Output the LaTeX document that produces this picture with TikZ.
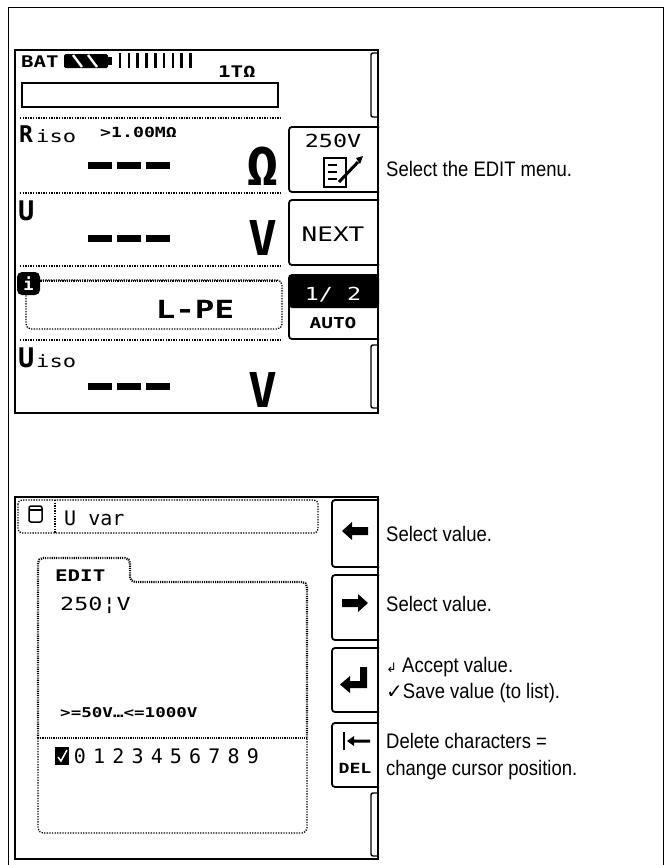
\documentclass[tikz,border=0pt]{standalone}
\usepackage{fontspec}
\setmainfont{Liberation Sans}[FakeStretch=0.88]
\newfontfamily\lcdfont{DejaVu Sans Mono}
\newfontfamily\lcdwide{DejaVu Sans Mono}[FakeStretch=1.3]
\newfontfamily\symfont{DejaVu Sans}
\tikzset{
  lcd/.style={font=\lcdfont\fontsize{#1}{#1}\selectfont, inner sep=0pt},
  lcdb/.style={font=\lcdfont\bfseries\fontsize{#1}{#1}\selectfont, inner sep=0pt},
  lcdw/.style={font=\lcdwide\fontsize{#1}{#1}\selectfont, inner sep=0pt},
  lcdwb/.style={font=\lcdwide\bfseries\fontsize{#1}{#1}\selectfont, inner sep=0pt},
  hint/.style={font=\fontsize{21}{21}\selectfont, inner sep=0pt, anchor=base west},
  screen/.style={line width=2pt},
  softkey/.style={line width=1.8pt, rounded corners=3pt},
  emptykey/.style={line width=1.4pt, rounded corners=2pt},
  dotsep/.style={line width=1.3pt, dash pattern=on 1.3pt off 1.3pt},
  checker/.style={line width=2.2pt, dash pattern=on 1.1pt off 1.1pt},
}
\begin{document}
\begin{tikzpicture}[x=1pt,y=-1pt]
\useasboundingbox (0,0) rectangle (672,865);
\draw[line width=0.9pt] (8,865) -- (8,7) -- (663,7) -- (663,865);

% ---- screen 1: measuring view
\draw[screen] (15,50) rectangle (378,413);
\node[lcdwb=16, anchor=base west] (bat) at (21,67) {BAT};
\fill[rounded corners=1.5pt] (64,54) rectangle (108,68);
\fill (107,57) rectangle (112,65);
\draw[white, line width=2.4pt] (73,55) -- (82,67) (88,55) -- (97,67);
\foreach \i in {0,...,8}
  \draw[line width=2.6pt] (120+8.8*\i,53) -- (120+8.8*\i,68);
\node[lcdwb=16, anchor=base west] (range) at (218,77) {1TΩ};
\draw[line width=1.3pt] (22,83) rectangle (278,107);
\foreach \y in {118,193,266,340}
  \draw[dotsep] (20,\y) -- (281,\y);
% Riso
\node[lcdb=23, anchor=base west] (riso) at (19,142) {R};
\node[lcdw=17, anchor=base west] (risoi) at (36,142) {iso};
\node[lcdwb=14, anchor=base west] (limit) at (100,137) {>1.00MΩ};
\node[lcdb=54, anchor=base] (ohm) at (263,185) {Ω};
% U
\node[lcdb=27, anchor=base west] (u) at (18,220) {U};
\node[lcdb=48, anchor=base] (volt) at (263,255) {V};
% L-PE
\draw[dotsep, rounded corners=5pt] (26,280) rectangle (282,329);
\draw[checker] (36,281) -- (278,281);
\fill[rounded corners=5pt] (17,272) rectangle (40,295);
\node[lcdb=17, white] (info) at (28.5,283.5) {i};
\node[lcdwb=25, anchor=base] (lpe) at (195,318) {L-PE};
% Uiso
\node[lcdb=27, anchor=base west] (uiso) at (18,367) {U};
\node[lcdw=17, anchor=base west] (uisoi) at (36,367) {iso};
\node[lcdb=48, anchor=base] (voltiso) at (263,407) {V};
% dashes
\foreach \y in {165,238,386}
  \foreach \x in {88,117,146}
    \fill (\x,\y-3.5) rectangle (\x+24,\y+3.5);
% soft keys
\draw[emptykey] (378,53) -| (371,117) -- (378,117);
\draw[softkey] (379,127) -| (289,192) -- (379,192);
\node[lcdw=18, anchor=base] (k250) at (333,147) {250V};
\draw[line width=1.6pt] (324,158) rectangle (346,187);
\foreach \y in {165,172,179}
  \draw[line width=1.6pt] (328,\y) -- (337,\y);
\draw[line width=3pt] (339,182) -- (358,162);
\fill (356,158) -- (363,156) -- (360,164) -- cycle;
\draw[softkey] (379,200) -| (289,265) -- (379,265);
\node[lcdw=20, anchor=base] (knext) at (333,241) {NEXT};
\fill[rounded corners=3pt] (289,275) rectangle (379,308);
\draw[softkey] (379,275) -| (289,339) -- (379,339);
\node[lcdw=18, white, anchor=base] (kpage) at (333,300) {1/ 2};
\node[lcdwb=15, anchor=base] (kauto) at (333,328) {AUTO};
\draw[emptykey] (378,345) -| (371,408) -- (378,408);
\node[hint] (editmenu) at (386,176) {Select the EDIT menu.};

% ---- screen 2: edit view
\draw[screen] (15,497) rectangle (378,859);
\draw[dotsep, rounded corners=4pt] (18,500) rectangle (318,533);
\draw[dotsep] (55,500) -- (55,533);
\draw[line width=1.5pt, rounded corners=2pt] (29,506) rectangle (42,522);
\draw[line width=1.5pt] (29,510) -- (42,510);
\node[lcd=20, anchor=base west] (uvar) at (64,525) {U var};
% edit box
\draw[checker, rounded corners=5pt] (38,738) -- (38,558) -- (130,558) -- (130,582) -- (307,582) -- (307,738);
\draw[checker] (38,738) -- (307,738);
\draw[dotsep, rounded corners=5pt] (38,738) -- (38,833) -- (307,833) -- (307,738);
\node[lcdwb=16, anchor=base west] (edit) at (55,581) {EDIT};
\node[lcdw=18, anchor=base west] (value) at (60,610) {250¦V};
\node[lcdwb=13.5, anchor=base west] (bounds) at (60,717) {>=50V…<=1000V};
\fill (55,747) rectangle (69,765);
\draw[white, line width=1.5pt] (58,757) -- (61,761) -- (67,750);
\foreach \d [count=\i from 0] in {0,...,9}
  \node[lcd=20, anchor=base] (digit\d) at (80+19.2*\i,763) {\d};
% keys
\draw[softkey] (379,500) -| (332,567) -- (379,567);
\fill (342,531) -- (352,522) -- (352,527) -- (368,527) -- (368,535) -- (352,535) -- (352,540) -- cycle;
\draw[softkey] (379,575) -| (332,640) -- (379,640);
\fill (368,603) -- (358,594) -- (358,599) -- (342,599) -- (342,607) -- (358,607) -- (358,612) -- cycle;
\draw[softkey] (379,648) -| (332,712) -- (379,712);
\fill (340,684.5) -- (350,676) -- (350,681) -- (360,681) -- (360,667) -- (367,667) -- (367,688) -- (350,688) -- (350,693) -- cycle;
\draw[softkey] (379,723) -| (332,787) -- (379,787);
\draw[line width=2.6pt] (344,732) -- (344,750);
\fill (347,741) -- (354,736) -- (354,739.5) -- (370,739.5) -- (370,742.5) -- (354,742.5) -- (354,746) -- cycle;
\node[lcdwb=14, anchor=base] (del) at (355,773) {DEL};
\draw[emptykey] (378,793) -| (371,856) -- (378,856);
% hints
\node[hint] (left) at (386,541) {Select value.};
\node[hint] (right) at (386,611) {Select value.};
\node[hint] (accept) at (386,672) {{\symfont\fontsize{13}{13}\selectfont ↲} Accept value.};
\node[hint] (save) at (386,698) {{\symfont\bfseries\fontsize{20}{20}\selectfont ✓}Save value (to list).};
\node[hint] (delete) at (386,748) {Delete characters =};
\node[hint] (cursor) at (386,775) {change cursor position.};
\end{tikzpicture}
\end{document}
